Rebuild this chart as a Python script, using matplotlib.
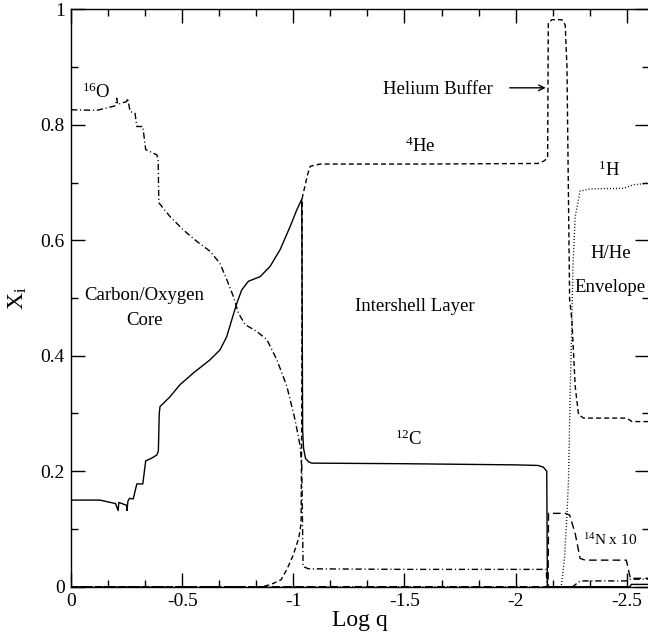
import matplotlib
matplotlib.use('Agg')
import matplotlib.pyplot as plt
from matplotlib.ticker import MultipleLocator, FixedLocator

plt.rcParams['font.family'] = ['Liberation Serif', 'DejaVu Serif']
plt.rcParams['mathtext.fontset'] = 'custom'
plt.rcParams['mathtext.rm'] = 'Liberation Serif'
plt.rcParams['mathtext.it'] = 'Liberation Serif:italic'

# 12C (solid)
c_x = [0, -0.13, -0.20, -0.212, -0.215, -0.25, -0.252, -0.256, -0.263, -0.28, -0.296,
       -0.323, -0.336, -0.36, -0.386, -0.393, -0.397, -0.4005, -0.4455, -0.4905,
       -0.55, -0.6255, -0.67, -0.7005, -0.723, -0.746, -0.768, -0.798, -0.851,
       -0.896, -0.941, -0.986, -1.016, -1.038, -1.042, -1.046, -1.055,
       -1.07, -1.083, -1.5, -2.0, -2.10, -2.125, -2.14, -2.143, -2.515, -2.52, -2.6]
c_y = [0.150, 0.150, 0.144, 0.132, 0.146, 0.141, 0.132, 0.148, 0.153, 0.152, 0.178,
       0.178, 0.218, 0.222, 0.228, 0.235, 0.300, 0.312, 0.329, 0.350,
       0.370, 0.393, 0.410, 0.433, 0.462, 0.491, 0.514, 0.529, 0.537,
       0.555, 0.584, 0.624, 0.653, 0.671, 0.27, 0.24, 0.222,
       0.216, 0.214, 0.213, 0.211, 0.210, 0.207, 0.200, 0.0, 0.0, 0.004, 0.004]

# 16O (dash-dot)
o_x = [0, -0.116, -0.20, -0.206, -0.21, -0.23, -0.25, -0.255, -0.26, -0.266, -0.288,
       -0.296, -0.323, -0.336, -0.386, -0.392, -0.395, -0.4455, -0.505, -0.566,
       -0.6255, -0.67, -0.7005, -0.73, -0.753, -0.783, -0.836, -0.881, -0.926,
       -0.971, -1.008, -1.031, -1.038, -1.041, -1.044,
       -1.068, -1.5, -2.0, -2.138, -2.141, -2.255, -2.26, -2.29, -2.5, -2.516, -2.6]
o_y = [0.826, 0.825, 0.833, 0.846, 0.835, 0.838, 0.840, 0.846, 0.835, 0.823, 0.820,
       0.797, 0.797, 0.757, 0.748, 0.740, 0.665, 0.641, 0.618, 0.598,
       0.581, 0.560, 0.532, 0.503, 0.474, 0.454, 0.442, 0.428, 0.393,
       0.347, 0.289, 0.243, 0.21, 0.12, 0.035,
       0.031, 0.030, 0.030, 0.030, 0.0, 0.0, 0.001, 0.010, 0.010, 0.013, 0.013]

# 4He (dashed)
he_x = [0, -0.86, -0.90, -0.945, -0.971, -1.0, -1.025, -1.035, -1.038, -1.040,
        -1.05, -1.065, -1.076, -1.12, -1.6, -2.10, -2.126, -2.144, -2.147, -2.163,
        -2.208, -2.223, -2.231, -2.243, -2.253, -2.268, -2.283, -2.306, -2.50,
        -2.523, -2.6]
he_y = [0.0, 0.0, 0.004, 0.012, 0.030, 0.055, 0.085, 0.110, 0.30, 0.673,
        0.69, 0.715, 0.728, 0.732, 0.732, 0.733, 0.737, 0.742, 0.976, 0.982,
        0.982, 0.973, 0.90, 0.497, 0.462, 0.347, 0.298, 0.292, 0.292,
        0.286, 0.286]

# 1H (dotted)
h_x = [0, -2.205, -2.22, -2.231, -2.238, -2.246, -2.253, -2.258, -2.268, -2.29,
       -2.336, -2.486, -2.53, -2.6]
h_y = [0.0, 0.0, 0.05, 0.127, 0.185, 0.347, 0.462, 0.555, 0.641, 0.685,
       0.689, 0.690, 0.696, 0.699]

# 14N x 10 (long dashes)
n_x = [0, -2.146, -2.148, -2.223, -2.243, -2.268, -2.29, -2.313, -2.498, -2.516, -2.6]
n_y = [0.0, 0.0, 0.127, 0.127, 0.124, 0.092, 0.049, 0.046, 0.046, 0.0145, 0.0145]

x_ticks = [0, -0.5, -1, -1.5, -2, -2.5]
x_labels = ['0', '-0.5', '-1', '-1.5', '-2', '-2.5']
y_ticks = [0, 0.2, 0.4, 0.6, 0.8, 1]
y_labels = ['0', '0.2', '0.4', '0.6', '0.8', '1']

fig = plt.figure(figsize=(6.48, 6.39), dpi=100)
ax = fig.add_axes([71 / 648, 52.3 / 639, 578 / 648, 577.4 / 639])

lw = 1.0
ax.plot(c_x, c_y, color='k', lw=lw)
ax.plot(o_x, o_y, color='k', lw=lw, dashes=(4.5, 2, 0.8, 2))
ax.plot(he_x, he_y, color='k', lw=lw, dashes=(3.6, 2.2))
ax.plot(h_x, h_y, color='k', lw=lw, dashes=(0.7, 1.5))
ax.plot(n_x, n_y, color='k', lw=lw, dashes=(5.5, 3))

ax.set_xlim(0, -2.6)
ax.set_ylim(0, 1)
ax.xaxis.set_major_locator(FixedLocator(x_ticks))
ax.set_xticklabels(x_labels)
ax.xaxis.set_minor_locator(MultipleLocator(0.5 / 3))
ax.yaxis.set_major_locator(FixedLocator(y_ticks))
ax.set_yticklabels(y_labels)
ax.yaxis.set_minor_locator(MultipleLocator(0.1))
ax.tick_params(which='both', direction='in', top=True, right=True, width=1.0,
               labelsize=14, pad=4.5)
ax.tick_params(which='major', length=10)
ax.tick_params(which='minor', length=5)
for s in ax.spines.values():
    s.set_linewidth(1.0)

ax.set_xlabel('Log q', fontsize=17, labelpad=0)
ax.set_ylabel(r'X$_\mathregular{i}$', fontsize=17)
ax.yaxis.set_label_coords(-0.072, 0.50)

fs = 13.5
ax.text(-0.05, 0.856, r'$^{16}$O', fontsize=fs, ha='left', va='center')
ax.text(-0.33, 0.483, 'Carbon/Oxygen\nCore', fontsize=fs, ha='center', va='center',
        linespacing=1.6)
ax.text(-1.548, 0.485, 'Intershell Layer', fontsize=fs, ha='center', va='center')
ax.text(-1.649, 0.861, 'Helium Buffer', fontsize=fs, ha='center', va='center')
ax.annotate('', xy=(-2.148, 0.864), xytext=(-1.961, 0.864),
            arrowprops=dict(arrowstyle='->', color='k', lw=1.0))
ax.text(-1.571, 0.762, r'$^4$He', fontsize=fs, ha='center', va='center')
ax.text(-2.419, 0.722, r'$^1$H', fontsize=fs, ha='center', va='center')
ax.text(-2.426, 0.577, 'H/He', fontsize=fs, ha='center', va='center')
ax.text(-2.426, 0.519, 'Envelope', fontsize=fs, ha='center', va='center')
ax.text(-1.517, 0.256, r'$^{12}$C', fontsize=fs, ha='center', va='center')
ax.text(-2.426, 0.080, r'$^{14}$N x 10', fontsize=11, ha='center', va='center')

fig.savefig('out.png', dpi=100)
